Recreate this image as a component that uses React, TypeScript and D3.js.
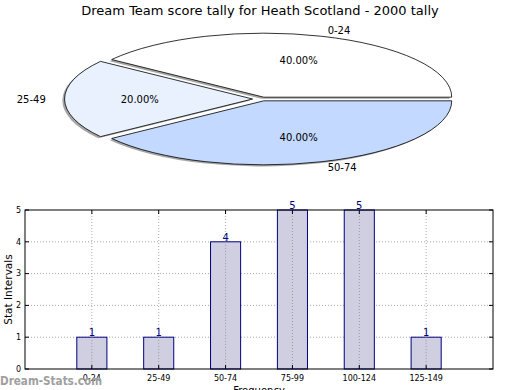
import * as d3 from "d3";

// pie data
const pieLabels = ["0-24", "25-49", "50-74"];
const pieValues = [40, 20, 40];
const pieColors = ["#ffffff", "#e9f1ff", "#c3d9ff"];
const pieExplode = [0.03, 0.05, 0.03];

// bar data
const barCats = ["0-24", "25-49", "50-74", "75-99", "100-124", "125-149"];
const barValues = [1, 1, 4, 5, 5, 1];
const yTicks = [0, 1, 2, 3, 4, 5];

const W = 520;
const H = 390;
const font = "DejaVu Sans, sans-serif";

export default function App() {
  // pie geometry (ellipse)
  const cx = 262;
  const cy = 99;
  const rx = 188;
  const ry = 64;

  const pie = d3
    .pie<number>()
    .sort(null)
    .startAngle(Math.PI / 2)
    .endAngle(Math.PI / 2 - 2 * Math.PI);
  const arcs = pie(pieValues);
  const arc = d3.arc<d3.PieArcDatum<number>>().innerRadius(0).outerRadius(1);

  // unit direction of each slice's middle, in screen coords
  const dir = (a: d3.PieArcDatum<number>) => {
    const mid = (a.startAngle + a.endAngle) / 2;
    return [Math.sin(mid), -Math.cos(mid)];
  };

  // bar chart geometry
  const m = { left: 25, right: 493, top: 210, bottom: 369 };
  const x = d3.scaleLinear().domain([0, 7]).range([m.left, m.right]);
  const y = d3.scaleLinear().domain([0, 5]).range([m.bottom, m.top]);
  const bw = x(0.45) - x(0);

  return (
    <svg
      width={W}
      height={H}
      style={{ position: "absolute", left: 0, top: 0, background: "#fff" }}
      fontFamily={font}
    >
      <text x={260} y={15} textAnchor="middle" fontSize={13}>
        Dream Team score tally for Heath Scotland - 2000 tally
      </text>

      {/* shadows */}
      {arcs.map((a, i) => {
        const [ux, uy] = dir(a);
        const e = pieExplode[i];
        return (
          <g key={"s" + i} transform={`translate(${cx},${cy}) scale(${rx},${ry}) translate(${ux * e - 0.012},${uy * e + 0.025})`}>
            <path d={arc(a) || ""} fill="#4d4d4d" opacity={0.5} />
          </g>
        );
      })}
      {arcs.map((a, i) => {
        const [ux, uy] = dir(a);
        const e = pieExplode[i];
        return (
          <g key={"p" + i} transform={`translate(${cx},${cy}) scale(${rx},${ry}) translate(${ux * e},${uy * e})`}>
            <path
              d={arc(a) || ""}
              fill={pieColors[i]}
              stroke="#000"
              strokeWidth={0.8}
              vectorEffect="non-scaling-stroke"
            />
          </g>
        );
      })}
      {arcs.map((a, i) => {
        const [ux, uy] = dir(a);
        const e = pieExplode[i];
        const ex = cx + ux * e * rx;
        const ey = cy + uy * e * ry;
        const lx = ex + ux * 1.1 * rx;
        const ly = ey + uy * 1.1 * ry;
        const px = ex + ux * 0.6 * rx;
        const py = ey + uy * 0.6 * ry;
        return (
          <g key={"l" + i} fontSize={10}>
            <text x={lx} y={ly} dy="0.35em" textAnchor={ux >= 0 ? "start" : "end"}>
              {pieLabels[i]}
            </text>
            <text x={px} y={py} dy="0.35em" textAnchor="middle">
              {pieValues[i].toFixed(2)}%
            </text>
          </g>
        );
      })}

      {/* bar chart */}
      <rect x={m.left} y={m.top} width={m.right - m.left} height={m.bottom - m.top} fill="#fff" />
      {yTicks.slice(1, -1).map((t) => (
        <line key={"gy" + t} x1={m.left} x2={m.right} y1={y(t)} y2={y(t)} stroke="#aaa" strokeWidth={1} strokeDasharray="1,2" />
      ))}
      {barCats.map((c, i) => (
        <line key={"gx" + c} x1={x(i + 1)} x2={x(i + 1)} y1={m.top} y2={m.bottom} stroke="#aaa" strokeWidth={1} strokeDasharray="1,2" />
      ))}
      {barValues.map((v, i) => (
        <rect
          key={"b" + i}
          x={x(i + 1) - bw / 2}
          y={y(v)}
          width={bw}
          height={y(0) - y(v)}
          fill="#ccccdf"
          fillOpacity={0.95}
          stroke="#000080"
          strokeWidth={1}
        />
      ))}
      {barValues.map((v, i) => (
        <line key={"gx2" + i} x1={x(i + 1)} x2={x(i + 1)} y1={y(v)} y2={m.bottom} stroke="#999" strokeWidth={1} strokeDasharray="1,2" />
      ))}
      {barValues.map((v, i) => (
        <text key={"v" + i} x={x(i + 1)} y={y(v) - 1} textAnchor="middle" fontSize={10} fill="#000080">
          {v}
        </text>
      ))}
      <rect x={m.left} y={m.top} width={m.right - m.left} height={m.bottom - m.top} fill="none" stroke="#000" strokeWidth={1} />
      {yTicks.map((t) => (
        <g key={"yt" + t}>
          <line x1={m.left} x2={m.left + 4} y1={y(t)} y2={y(t)} stroke="#000" />
          <line x1={m.right} x2={m.right - 4} y1={y(t)} y2={y(t)} stroke="#000" />
          <text x={m.left - 4} y={y(t)} dy="0.35em" textAnchor="end" fontSize={8}>
            {t}
          </text>
        </g>
      ))}
      {barCats.map((c, i) => (
        <g key={"xt" + c}>
          <line x1={x(i + 1)} x2={x(i + 1)} y1={m.bottom} y2={m.bottom - 4} stroke="#000" />
          <line x1={x(i + 1)} x2={x(i + 1)} y1={m.top} y2={m.top + 4} stroke="#000" />
          <text x={x(i + 1)} y={m.bottom + 12} textAnchor="middle" fontSize={8}>
            {c}
          </text>
        </g>
      ))}
      <text x={259} y={394} textAnchor="middle" fontSize={10}>
        Frequency
      </text>
      <text transform={`translate(12,${(m.top + m.bottom) / 2}) rotate(-90)`} textAnchor="middle" fontSize={10.5}>
        Stat Intervals
      </text>
      <text x={0} y={385} fontSize={12} fontWeight="bold" fill="#a0a0a0" textLength={102} lengthAdjust="spacingAndGlyphs">
        Dream-Stats.com
      </text>
    </svg>
  );
}
